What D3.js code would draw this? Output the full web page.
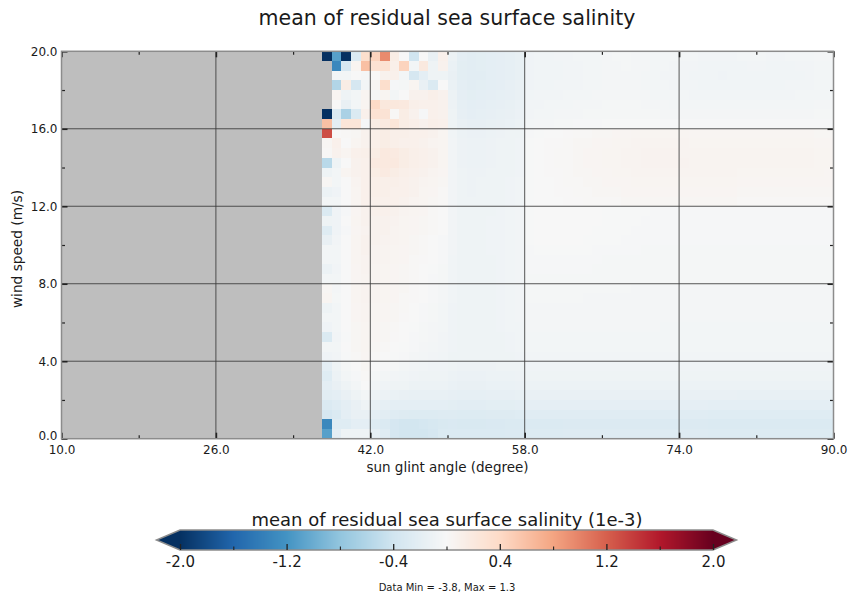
<!DOCTYPE html>
<html>
<head>
<meta charset="utf-8">
<script src="https://cdn.jsdelivr.net/npm/d3@7"></script>
<style>
  body { margin: 0; background: #ffffff; }
  text { font-family: "DejaVu Sans", sans-serif; fill: #1a1a1a; }
</style>
</head>
<body>
<svg id="chart" width="852" height="601"></svg>
<script>
// Bin lower edges: sun glint angle (1 degree bins) and wind speed (0.5 m/s bins, listed top to bottom)
const angleBins = [37,38,39,40,41,42,43,44,45,46,47,48,49,50,51,52,53,54,55,56,57,58,59,60,61,62,63,64,65,66,67,68,69,70,71,72,73,74,75,76,77,78,79,80,81,82,83,84,85,86,87,88,89];
const windBins = [19.5,19,18.5,18,17.5,17,16.5,16,15.5,15,14.5,14,13.5,13,12.5,12,11.5,11,10.5,10,9.5,9,8.5,8,7.5,7,6.5,6,5.5,5,4.5,4,3.5,3,2.5,2,1.5,1,0.5,0];

// Axis ticks
const xTicks = [10, 26, 42, 58, 74, 90];
const xMinor = [18, 34, 50, 66, 82];
const yTicks = [0, 4, 8, 12, 16, 20];
const yMinor = [2, 6, 10, 14, 18];
const cbTicks = [-2, -1.2, -0.4, 0.4, 1.2, 2];
const cbMinor = [-1.6, -0.8, 0, 0.8, 1.6];

// Diverging palette, blue (low) to red (high)
const paletteColors = ["#053061","#2166ac","#4393c3","#92c5de","#d1e5f0","#f7f7f7","#fddbc7","#f4a582","#d6604d","#b2182b","#67001f"];

// Mean residual SSS, in hundredths of 1e-3; one row per wind bin (top row = 19.5-20 m/s),
// one column per angle bin (37..89 degrees); null = no data
const residualRows = [
 [-380,-110,-260,-30,35,45,95,15,0,-40,0,-15,10, -12,-20,-22,-21,-20,-19,-18,-16, -8,-7,-7,-6,-6,-5,-5,-5, -4,-3,-3,-4,-4,-5,-5,-5, -5,-5,-6,-6,-6,-6,-5,-5, -5,-6,-6,-5,-5,-5,-4,-4],
 [null,-130,-35,5,60,30,30,12,45,-5,20,-10,8, -14,-21,-22,-21,-20,-19,-18,-16, -8,-7,-7,-7,-6,-6,-5,-5, -4,-4,-3,-4,-4,-5,-5,-6, -6,-6,-7,-7,-7,-7,-7,-6, -6,-7,-7,-7,-6,-6,-5,-5],
 [null,-5,-5,0,-3,0,8,10,-5,-35,-20,-10,-10, -15,-21,-22,-22,-20,-19,-18,-16, -8,-7,-7,-7,-6,-6,-5,-5, -4,-4,-4,-4,-5,-5,-6,-6, -6,-7,-7,-7,-8,-7,-7,-7, -7,-7,-7,-7,-7,-6,-5,-5],
 [null,-60,15,-35,-5,5,35,-2,-3,5,-15,-30,0, -14,-20,-22,-21,-20,-19,-17,-15, -8,-7,-7,-6,-6,-6,-5,-5, -4,-4,-4,-4,-5,-5,-5,-6, -6,-6,-7,-7,-7,-7,-7,-7, -7,-7,-7,-6,-6,-6,-5,-5],
 [null,5,-10,-5,5,-3,5,-5,0,8,8,12,8, -12,-19,-21,-20,-19,-18,-17,-15, -7,-6,-6,-6,-5,-5,-5,-4, -4,-4,-4,-4,-4,-5,-5,-5, -5,-6,-6,-6,-6,-6,-6,-6, -6,-6,-6,-6,-5,-5,-5,-5],
 [null,0,-15,-5,5,40,22,22,20,12,10,10,8, -11,-18,-20,-19,-18,-17,-16,-14, -6,-6,-5,-5,-5,-4,-4,-4, -3,-3,-3,-3,-4,-4,-4,-5, -5,-5,-5,-5,-5,-5,-5,-5, -5,-5,-5,-5,-5,-5,-4,-4],
 [-240,-30,-65,-30,10,30,28,2,15,8,-2,10,8, -10,-17,-19,-18,-17,-16,-15,-13, -6,-5,-5,-4,-4,-4,-3,-3, -3,-3,-3,-3,-3,-3,-4,-4, -4,-4,-4,-4,-4,-4,-4,-4, -4,-4,-4,-4,-4,-4,-3,-3],
 [60,-20,25,25,-2,15,18,25,15,12,8,12,10, -9,-15,-17,-17,-16,-15,-14,-12, -5,-4,-4,-3,-3,-2,-2,-2, -1,-1,-1,-1,-1,-1,-2,-2, -2,-2,-2,-2,-2,-2,-2,-2, -2,-2,-2,-2,-2,-2,-2,-2],
 [130,0,2,3,8,12,15,12,12,10,10,8,5, -7,-12,-13,-13,-12,-11,-10,-9, -2,-1,0,0,1,2,2,3, 3,4,4,5,5,5,5,5, 5,4,4,4,4,4,4,4, 4,4,4,4,4,4,3,3],
 [3,10,0,5,8,12,15,12,10,10,8,6,5, -6,-11,-12,-12,-11,-10,-9,-8, -1,0,1,1,2,3,3,4, 4,5,5,6,6,6,6,6, 6,5,5,5,5,5,5,5, 5,5,5,5,5,5,4,4],
 [2,8,5,10,12,15,20,18,15,12,10,8,5, -6,-11,-12,-12,-11,-10,-9,-8, -1,0,1,2,2,3,4,4, 5,5,6,6,7,7,7,7, 6,6,6,6,6,6,6,6, 6,6,6,6,6,6,5,5],
 [-55,-10,0,8,10,18,20,20,15,12,10,8,5, -6,-11,-12,-12,-11,-10,-9,-8, -1,0,1,2,2,3,4,4, 5,5,6,6,7,7,7,7, 7,6,6,6,6,6,6,6, 6,6,6,6,6,6,5,5],
 [-10,-5,5,8,10,15,18,15,12,10,8,6,4, -6,-10,-11,-11,-10,-10,-9,-8, -1,0,1,1,2,3,3,4, 4,5,5,6,6,6,6,6, 6,6,6,6,6,6,5,5, 5,5,5,5,5,5,5,4],
 [3,-5,0,6,10,12,12,12,10,8,6,5,3, -6,-10,-11,-10,-10,-9,-8,-7, -1,0,0,1,2,2,3,3, 4,4,4,5,5,5,5,5, 5,5,5,5,5,5,4,4, 4,4,4,4,4,4,4,4],
 [-12,-8,0,5,10,12,12,10,10,8,5,4,2, -6,-10,-11,-10,-10,-9,-8,-7, -1,0,0,1,1,2,2,3, 3,3,4,4,4,4,4,4, 4,4,4,4,4,4,3,3, 3,3,3,3,3,3,3,3],
 [-5,-5,0,5,10,10,10,10,8,6,5,3,2, -6,-10,-10,-10,-9,-9,-8,-7, -1,0,0,0,1,1,2,2, 2,2,3,3,3,3,3,3, 3,3,3,3,3,3,2,2, 2,2,2,2,2,2,2,2],
 [-30,-8,-2,4,8,10,10,8,6,5,4,2,0, -6,-9,-10,-9,-9,-8,-7,-6, -1,0,0,0,0,0,0,0, -1,-1,-1,-1,-1,-2,-2,-2, -2,-2,-2,-2,-2,-2,-2,-2, -2,-2,-2,-2,-2,-2,-2,-2],
 [-10,-8,0,5,8,8,8,7,5,4,3,2,0, -6,-9,-9,-9,-8,-8,-7,-6, -1,0,0,0,0,0,0,0, -1,-1,-1,-1,-2,-2,-2,-2, -2,-2,-2,-2,-2,-2,-2,-2, -2,-2,-2,-2,-2,-2,-2,-2],
 [-25,-8,-2,4,7,8,8,6,5,4,3,2,0, -6,-9,-9,-9,-8,-8,-7,-6, -1,0,0,0,0,0,0,-1, -1,-1,-1,-2,-2,-2,-2,-2, -2,-2,-2,-2,-2,-2,-2,-2, -2,-2,-2,-2,-2,-2,-2,-2],
 [-15,-6,0,5,8,8,7,6,5,3,2,0,-2, -6,-9,-9,-9,-8,-8,-7,-6, -1,0,0,0,0,0,-1,-1, -1,-1,-2,-2,-2,-2,-2,-2, -2,-2,-2,-2,-2,-2,-2,-2, -2,-2,-2,-2,-2,-2,-2,-2],
 [-5,-5,0,5,8,7,6,5,4,3,2,0,-2, -6,-9,-9,-9,-8,-8,-7,-6, -2,-1,-1,-1,-1,-1,-1,-2, -2,-2,-2,-2,-3,-3,-3,-3, -3,-3,-3,-3,-3,-3,-3,-3, -3,-3,-3,-3,-3,-3,-3,-3],
 [-5,-5,0,5,7,7,6,5,4,2,1,0,-2, -7,-9,-9,-9,-9,-8,-7,-6, -2,-2,-2,-2,-2,-2,-2,-2, -3,-3,-3,-3,-3,-3,-3,-3, -3,-3,-3,-3,-3,-3,-3,-3, -3,-3,-3,-3,-3,-3,-3,-3],
 [-12,-6,0,4,7,6,5,4,3,2,0,-1,-3, -7,-9,-9,-9,-9,-8,-7,-6, -2,-2,-2,-2,-2,-2,-2,-3, -3,-3,-3,-3,-3,-3,-3,-3, -3,-3,-3,-3,-3,-3,-3,-3, -3,-3,-3,-3,-3,-3,-3,-3],
 [-5,-5,0,4,6,6,5,4,3,2,0,-2,-3, -7,-9,-9,-9,-9,-8,-7,-6, -3,-3,-3,-3,-3,-3,-3,-3, -3,-3,-3,-3,-3,-3,-3,-3, -3,-3,-3,-3,-3,-3,-3,-3, -3,-3,-3,-3,-3,-3,-3,-3],
 [3,-4,0,5,7,6,5,4,3,1,0,-2,-4, -7,-9,-9,-9,-9,-8,-7,-6, -3,-3,-3,-3,-3,-3,-3,-3, -3,-3,-3,-4,-4,-4,-4,-4, -4,-4,-4,-4,-4,-4,-4,-4, -4,-4,-4,-4,-4,-4,-4,-4],
 [5,-3,0,5,7,6,5,4,2,1,0,-2,-4, -7,-9,-9,-9,-9,-8,-7,-6, -3,-3,-3,-3,-3,-3,-4,-4, -4,-4,-4,-4,-4,-4,-4,-4, -4,-4,-4,-4,-4,-4,-4,-4, -4,-4,-4,-4,-4,-4,-4,-4],
 [-10,-5,0,4,6,5,4,3,2,0,-2,-3,-5, -8,-9,-9,-9,-9,-8,-7,-6, -4,-4,-4,-4,-4,-4,-4,-4, -4,-4,-4,-4,-4,-4,-4,-4, -4,-4,-4,-4,-4,-4,-4,-4, -4,-4,-4,-4,-4,-4,-4,-4],
 [-5,-5,0,4,6,5,4,3,1,0,-2,-3,-5, -8,-9,-9,-9,-9,-8,-7,-6, -4,-4,-4,-4,-4,-4,-4,-4, -4,-4,-4,-4,-4,-4,-4,-4, -4,-4,-4,-4,-4,-4,-4,-4, -4,-4,-4,-4,-4,-4,-4,-4],
 [-8,-5,0,3,5,4,3,2,0,-1,-3,-4,-5, -8,-9,-9,-9,-9,-8,-7,-7, -4,-4,-4,-4,-4,-4,-4,-4, -4,-4,-4,-4,-4,-4,-5,-5, -5,-5,-5,-5,-5,-5,-5,-5, -5,-5,-5,-5,-5,-5,-5,-5],
 [-30,-6,-1,3,5,4,3,1,0,-2,-3,-4,-6, -8,-9,-10,-10,-9,-9,-8,-7, -5,-5,-5,-5,-5,-5,-5,-5, -5,-5,-5,-5,-5,-5,-5,-5, -5,-5,-5,-5,-5,-5,-5,-5, -5,-5,-5,-5,-5,-5,-5,-5],
 [-5,-5,0,3,5,3,2,0,-1,-2,-4,-5,-6, -8,-9,-10,-10,-9,-9,-8,-7, -5,-5,-5,-5,-5,-5,-5,-5, -5,-5,-5,-5,-5,-5,-5,-5, -5,-5,-5,-5,-5,-5,-5,-5, -5,-5,-5,-5,-5,-5,-5,-5],
 [-8,-6,-1,2,4,2,0,-1,-2,-4,-5,-6,-7, -9,-10,-10,-10,-10,-9,-9,-8, -6,-6,-6,-6,-6,-6,-6,-6, -6,-6,-6,-6,-6,-6,-6,-6, -6,-6,-6,-6,-6,-6,-6,-6, -6,-6,-6,-6,-6,-6,-6,-6],
 [-20,-10,-3,0,3,0,-2,-3,-5,-6,-7,-8,-8, -10,-11,-11,-11,-11,-10,-10,-9, -8,-8,-8,-8,-8,-8,-8,-8, -8,-8,-8,-8,-8,-8,-8,-8, -8,-8,-8,-8,-8,-8,-8,-8, -8,-8,-8,-8,-8,-8,-8,-8],
 [-25,-12,-5,-2,2,-3,-5,-6,-7,-8,-9,-10,-10, -12,-13,-13,-13,-12,-12,-12,-11, -10,-10,-10,-10,-10,-10,-10,-10, -10,-10,-10,-10,-10,-10,-10,-10, -10,-10,-10,-10,-10,-10,-10,-10, -10,-10,-10,-10,-10,-10,-10,-10],
 [-20,-15,-10,-5,0,-5,-8,-10,-10,-12,-12,-12,-12, -14,-15,-15,-15,-14,-14,-14,-13, -12,-12,-12,-12,-12,-12,-12,-12, -12,-12,-12,-12,-12,-12,-12,-12, -12,-12,-12,-12,-12,-12,-12,-12, -12,-12,-12,-12,-12,-12,-12,-12],
 [-22,-20,-15,-10,-5,-10,-12,-14,-15,-16,-16,-16,-16, -17,-18,-18,-18,-17,-17,-17,-16, -15,-15,-15,-15,-15,-15,-15,-15, -15,-15,-15,-15,-15,-15,-15,-15, -15,-15,-15,-15,-15,-15,-16,-16, -16,-16,-16,-16,-16,-16,-16,-16],
 [-30,-25,-20,-15,-10,-15,-18,-20,-20,-20,-20,-20,-20, -21,-22,-22,-22,-21,-21,-21,-20, -19,-19,-19,-19,-19,-19,-19,-19, -19,-19,-19,-19,-19,-19,-19,-19, -19,-19,-19,-20,-20,-20,-20,-20, -20,-20,-20,-20,-20,-20,-20,-20],
 [-35,-30,-20,-15,-15,-20,-22,-25,-26,-27,-27,-27,-26, -26,-27,-27,-27,-26,-26,-26,-25, -24,-24,-24,-24,-24,-24,-24,-24, -24,-24,-24,-24,-24,-24,-24,-24, -24,-24,-24,-25,-25,-25,-25,-25, -25,-25,-25,-25,-25,-25,-25,-25],
 [-130,-25,-25,-20,-20,-25,-30,-35,-38,-38,-36,-34,-32, -31,-32,-32,-32,-31,-31,-30,-30, -29,-29,-29,-29,-28,-28,-28,-28, -28,-28,-28,-28,-28,-28,-28,-28, -28,-28,-28,-29,-29,-29,-29,-29, -29,-29,-29,-29,-29,-29,-29,-29],
 [-110,-20,-10,-10,-10,-18,-25,-35,-38,-38,-38,-35,-30, -29,-30,-30,-30,-29,-29,-28,-28, -27,-27,-27,-27,-26,-26,-26,-26, -26,-26,-26,-26,-26,-26,-26,-26, -26,-26,-26,-27,-27,-27,-27,-27, -27,-27,-27,-27,-27,-27,-27,-27]
];

const svg = d3.select("#chart");
const W = 852, H = 601;
svg.append("rect").attr("width", W).attr("height", H).attr("fill", "#ffffff");

// Plot geometry
const plot = { left: 61.5, right: 833.5, top: 51.3, bottom: 438.7 };
const x = d3.scaleLinear().domain([10, 90]).range([plot.left, plot.right]);
const y = d3.scaleLinear().domain([0, 20]).range([plot.bottom, plot.top]);

// Colour scale over [-2, 2], clamped (values outside use the end colours)
const color = d3.scaleLinear()
  .domain(d3.range(paletteColors.length).map(i => -2 + 4 * i / (paletteColors.length - 1)))
  .range(paletteColors)
  .interpolate(d3.interpolateRgb)
  .clamp(true);

// Number format with a plain hyphen for negatives
const f1 = d3.format(".1f");
const fmt = v => f1(v).replace("\u2212", "-");

// Cells
const cells = [];
residualRows.forEach((row, ri) => {
  row.forEach((v, ci) => {
    if (v !== null) cells.push({ angle: angleBins[ci], wind: windBins[ri], value: v / 100 });
  });
});

// Background (no data)
svg.append("rect")
  .attr("x", plot.left).attr("y", plot.top)
  .attr("width", plot.right - plot.left).attr("height", plot.bottom - plot.top)
  .attr("fill", "#bebebe");

svg.append("g")
  .attr("shape-rendering", "crispEdges")
  .selectAll("rect")
  .data(cells)
  .join("rect")
  .attr("x", d => x(d.angle))
  .attr("y", d => y(d.wind + 0.5))
  .attr("width", d => x(d.angle + 1) - x(d.angle) + 0.5)
  .attr("height", d => y(d.wind) - y(d.wind + 0.5) + 0.5)
  .attr("fill", d => color(d.value));

// Grid lines at inner major ticks
const grid = svg.append("g").attr("stroke", "#3a3a3a").attr("stroke-width", 1).attr("stroke-opacity", 0.85);
grid.selectAll("line.gx").data(xTicks.slice(1, -1)).join("line")
  .attr("x1", d => x(d)).attr("x2", d => x(d))
  .attr("y1", plot.top).attr("y2", plot.bottom);
grid.selectAll("line.gy").data(yTicks.slice(1, -1)).join("line")
  .attr("x1", plot.left).attr("x2", plot.right)
  .attr("y1", d => y(d)).attr("y2", d => y(d));

// Axes with inward ticks on all four sides
function styleAxis(g, width) {
  g.select(".domain").remove();
  g.selectAll(".tick line").attr("stroke", "#222").attr("stroke-width", width);
  g.selectAll(".tick text").attr("fill", "#1a1a1a").style("font-size", "12px").style("font-family", "DejaVu Sans, sans-serif");
}

const xb = svg.append("g").attr("transform", `translate(0,${plot.bottom})`)
  .call(d3.axisBottom(x).tickValues(xTicks).tickSize(-6).tickPadding(7).tickFormat(fmt));
styleAxis(xb, 1.6);
svg.append("g").attr("transform", `translate(0,${plot.bottom})`)
  .call(d3.axisBottom(x).tickValues(xMinor).tickSize(-3.5).tickFormat(""))
  .call(g => styleAxis(g, 1.2));
svg.append("g").attr("transform", `translate(0,${plot.top})`)
  .call(d3.axisTop(x).tickValues(xTicks).tickSize(-6).tickFormat(""))
  .call(g => styleAxis(g, 1.6));
svg.append("g").attr("transform", `translate(0,${plot.top})`)
  .call(d3.axisTop(x).tickValues(xMinor).tickSize(-3.5).tickFormat(""))
  .call(g => styleAxis(g, 1.2));

const yl = svg.append("g").attr("transform", `translate(${plot.left},0)`)
  .call(d3.axisLeft(y).tickValues(yTicks).tickSize(-6).tickPadding(4).tickFormat(fmt));
styleAxis(yl, 1.6);
// lift the bottom label a little so it clears the x-axis label below it
yl.selectAll(".tick").filter(d => d === 0).select("text").attr("dy", "0.1em");
svg.append("g").attr("transform", `translate(${plot.left},0)`)
  .call(d3.axisLeft(y).tickValues(yMinor).tickSize(-3.5).tickFormat(""))
  .call(g => styleAxis(g, 1.2));
svg.append("g").attr("transform", `translate(${plot.right},0)`)
  .call(d3.axisRight(y).tickValues(yTicks).tickSize(-6).tickFormat(""))
  .call(g => styleAxis(g, 1.6));
svg.append("g").attr("transform", `translate(${plot.right},0)`)
  .call(d3.axisRight(y).tickValues(yMinor).tickSize(-3.5).tickFormat(""))
  .call(g => styleAxis(g, 1.2));

// Frame
svg.append("rect")
  .attr("x", plot.left).attr("y", plot.top)
  .attr("width", plot.right - plot.left).attr("height", plot.bottom - plot.top)
  .attr("fill", "none").attr("stroke", "#8c8c8c").attr("stroke-width", 1.5);

// Titles
svg.append("text").attr("x", 447).attr("y", 18).attr("text-anchor", "middle")
  .attr("dominant-baseline", "central").style("font-size", "20.5px")
  .text("mean of residual sea surface salinity");
svg.append("text").attr("x", (plot.left + plot.right) / 2).attr("y", 467).attr("text-anchor", "middle")
  .attr("dominant-baseline", "central").style("font-size", "13.5px")
  .text("sun glint angle (degree)");
svg.append("text")
  .attr("transform", `translate(17,${(plot.top + plot.bottom) / 2 + 4}) rotate(-90)`)
  .attr("text-anchor", "middle").attr("dominant-baseline", "central").style("font-size", "13.7px")
  .text("wind speed (m/s)");

// Colour bar
const cb = { left: 180, right: 713, top: 530, bottom: 550, tip: 23.5 };
const xc = d3.scaleLinear().domain([-2, 2]).range([cb.left, cb.right]);
const cbg = svg.append("g");
cbg.selectAll("rect")
  .data(d3.range(cb.left, cb.right))
  .join("rect")
  .attr("x", d => d).attr("y", cb.top)
  .attr("width", 1.2).attr("height", cb.bottom - cb.top)
  .attr("fill", d => color(xc.invert(d + 0.5)));
const mid = (cb.top + cb.bottom) / 2;
cbg.append("path")
  .attr("d", `M${cb.left},${cb.top} L${cb.left - cb.tip},${mid} L${cb.left},${cb.bottom} Z`)
  .attr("fill", color(-2));
cbg.append("path")
  .attr("d", `M${cb.right},${cb.top} L${cb.right + cb.tip},${mid} L${cb.right},${cb.bottom} Z`)
  .attr("fill", color(2));
cbg.append("path")
  .attr("d", `M${cb.left},${cb.top} H${cb.right} L${cb.right + cb.tip},${mid} L${cb.right},${cb.bottom} H${cb.left} L${cb.left - cb.tip},${mid} Z`)
  .attr("fill", "none").attr("stroke", "#8c8c8c").attr("stroke-width", 1.5);

const cba = svg.append("g").attr("transform", `translate(0,${cb.bottom})`)
  .call(d3.axisBottom(xc).tickValues(cbTicks).tickSize(-6).tickPadding(6).tickFormat(fmt));
cba.select(".domain").remove();
cba.selectAll(".tick line").attr("stroke", "#222").attr("stroke-width", 1.3);
cba.selectAll(".tick text").attr("fill", "#1a1a1a").style("font-size", "15px").style("font-family", "DejaVu Sans, sans-serif");
svg.append("g").attr("transform", `translate(0,${cb.bottom})`)
  .call(d3.axisBottom(xc).tickValues(cbMinor).tickSize(-3.5).tickFormat(""))
  .call(g => { g.select(".domain").remove(); g.selectAll(".tick line").attr("stroke", "#222").attr("stroke-width", 1.1); });

svg.append("text").attr("x", 447).attr("y", 519).attr("text-anchor", "middle")
  .attr("dominant-baseline", "central").style("font-size", "18px")
  .text("mean of residual sea surface salinity (1e-3)");

// Data range note, taken from the values themselves
const allValues = cells.map(d => d.value);
svg.append("text").attr("x", 447).attr("y", 587).attr("text-anchor", "middle")
  .attr("dominant-baseline", "central").style("font-size", "10px")
  .text(`Data Min = ${fmt(d3.min(allValues))}, Max = ${fmt(d3.max(allValues))}`);
</script>
</body>
</html>
